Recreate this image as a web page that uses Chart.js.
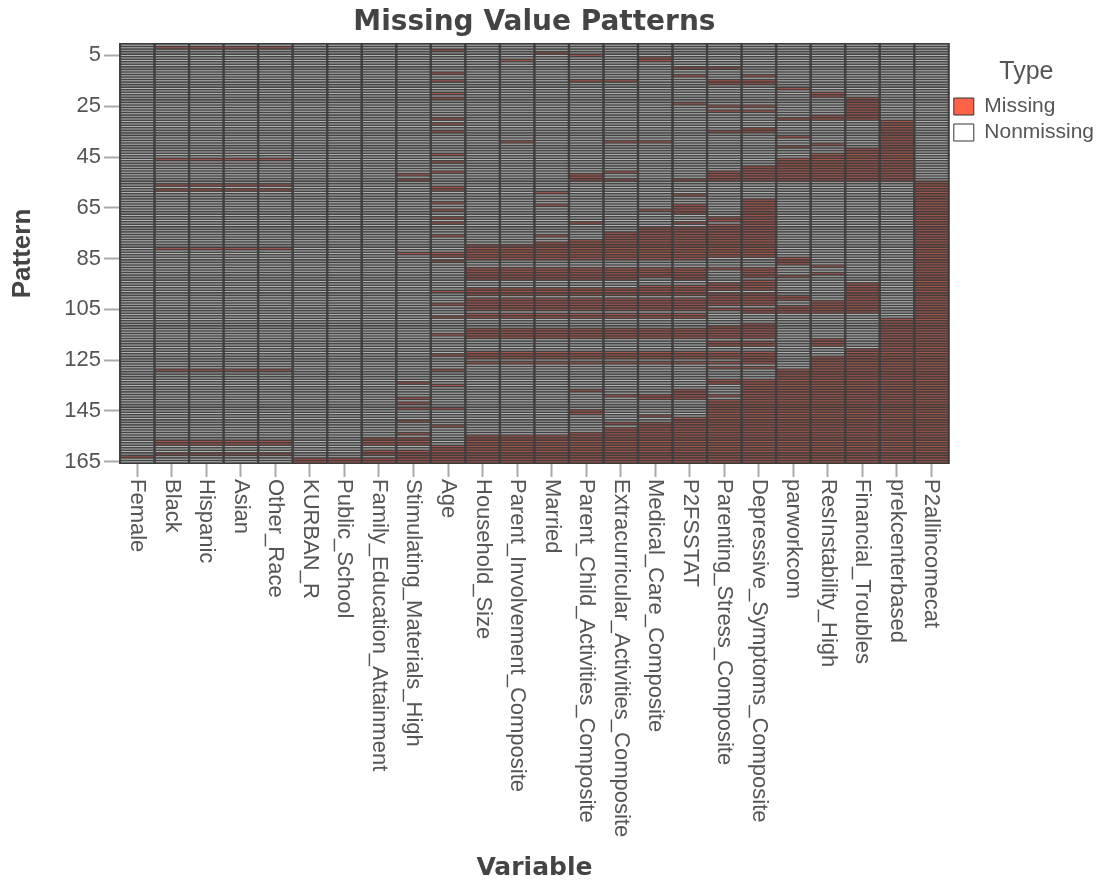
<!DOCTYPE html>
<html>
<head>
<meta charset="utf-8">
<title>Missing Value Patterns</title>
<script src="https://cdn.jsdelivr.net/npm/chart.js@4"></script>
<style>
    html, body { margin: 0; padding: 0; background: #fff; }
    /* the reference is a soft, resampled image */
    canvas { display: block; filter: blur(0.7px); }
</style>
</head>
<body>
<canvas id="patternChart" width="1099" height="884"></canvas>
<script>
// Data: missing pattern rows per variable, as [first, last] spans
const female = [[163, 163]];
const black = [[2, 2], [46, 46], [56, 56], [58, 58], [81, 81], [129, 129], [157, 158], [162, 162]];
const hispanic = [[2, 2], [46, 46], [56, 56], [58, 58], [81, 81], [129, 129], [157, 158], [162, 162]];
const asian = [[2, 2], [46, 46], [56, 56], [58, 58], [81, 81], [129, 129], [157, 158], [162, 162]];
const otherRace = [[2, 2], [46, 46], [56, 56], [58, 58], [81, 81], [129, 129], [157, 158], [162, 162]];
const kurbanR = [[164, 165]];
const publicSchool = [[164, 165]];
const familyEducation = [[156, 158], [161, 162], [164, 165]];
const stimulating = [[52, 52], [54, 54], [83, 83], [134, 134], [140, 140], [142, 142], [144, 144], [149, 149], [154, 154], [156, 158], [161, 165]];
const age = [[3, 3], [12, 12], [15, 15], [20, 20], [22, 22], [30, 30], [32, 32], [35, 35], [44, 44], [47, 47], [51, 51], [57, 58], [63, 63], [66, 66], [69, 69], [71, 71], [76, 76], [83, 84], [86, 86], [98, 98], [103, 103], [108, 108], [115, 115], [123, 123], [129, 129], [135, 135], [144, 144], [151, 151], [159, 165]];
const household = [[80, 85], [89, 93], [97, 99], [101, 105], [107, 108], [113, 116], [122, 124], [126, 126], [155, 165]];
const parentInvolvement = [[7, 7], [39, 39], [80, 85], [89, 93], [97, 99], [101, 105], [107, 108], [113, 116], [122, 124], [126, 126], [155, 165]];
const married = [[4, 4], [59, 59], [64, 64], [76, 76], [79, 85], [89, 93], [97, 99], [101, 105], [107, 108], [113, 116], [122, 124], [126, 126], [155, 165]];
const parentChild = [[5, 5], [15, 15], [52, 54], [71, 71], [78, 85], [89, 93], [97, 99], [101, 105], [107, 108], [113, 116], [122, 124], [126, 126], [137, 137], [145, 146], [154, 165]];
const extracurricular = [[15, 15], [39, 39], [51, 51], [54, 54], [75, 85], [89, 93], [97, 99], [101, 105], [107, 108], [113, 116], [122, 124], [126, 126], [139, 139], [150, 150], [152, 165]];
const medicalCare = [[6, 7], [39, 39], [66, 66], [73, 85], [89, 92], [96, 99], [101, 105], [107, 108], [113, 116], [122, 124], [126, 126], [139, 140], [147, 147], [150, 165]];
const p2fsstat = [[10, 10], [13, 13], [24, 24], [54, 54], [60, 60], [64, 67], [71, 71], [73, 85], [89, 93], [96, 99], [101, 105], [107, 108], [113, 116], [122, 124], [126, 126], [137, 140], [148, 165]];
const parentingStress = [[10, 10], [15, 16], [25, 25], [27, 27], [35, 35], [51, 54], [69, 70], [72, 84], [89, 89], [95, 97], [99, 103], [105, 105], [112, 116], [118, 119], [122, 124], [126, 126], [128, 128], [133, 134], [139, 139], [141, 165]];
const depressive = [[13, 13], [15, 16], [25, 25], [27, 27], [34, 35], [49, 54], [62, 84], [89, 92], [94, 97], [99, 103], [105, 106], [111, 116], [118, 119], [122, 126], [128, 128], [133, 165]];
const parwork = [[18, 18], [30, 30], [37, 37], [41, 41], [46, 54], [85, 87], [92, 92], [100, 101], [104, 106], [129, 165]];
const resInstability = [[20, 21], [29, 30], [40, 40], [44, 54], [88, 88], [91, 91], [102, 106], [117, 119], [124, 165]];
const financialTroubles = [[22, 30], [42, 54], [95, 106], [121, 165]];
const prekCenter = [[31, 54], [109, 165]];
const p2allIncome = [[55, 165]];

const variables = ['Female', 'Black', 'Hispanic', 'Asian', 'Other_Race', 'KURBAN_R', 'Public_School',
    'Family_Education_Attainment', 'Stimulating_Materials_High', 'Age', 'Household_Size',
    'Parent_Involvement_Composite', 'Married', 'Parent_Child_Activities_Composite',
    'Extracurricular_Activities_Composite', 'Medical_Care_Composite', 'P2FSSTAT',
    'Parenting_Stress_Composite', 'Depressive_Symptoms_Composite', 'parworkcom',
    'ResInstability_High', 'Financial_Troubles', 'prekcenterbased', 'P2allincomecat'];
const missingSpans = [female, black, hispanic, asian, otherRace, kurbanR, publicSchool, familyEducation,
    stimulating, age, household, parentInvolvement, married, parentChild, extracurricular, medicalCare,
    p2fsstat, parentingStress, depressive, parwork, resInstability, financialTroubles, prekCenter, p2allIncome];
const patternTicks = [5, 25, 45, 65, 85, 105, 125, 145, 165];
const patternCount = 165;
const typeLabels = ['Missing', 'Nonmissing'];

// Colours: legend keys keep the pure colours, cells are toned down so the thin rows
// blend the way they do in the resampled reference
const missingColor = '#ff6347';
const nonmissingColor = '#ffffff';
const keyBorder = '#333333';
const missingCell = '#a0564c';
const missingCellBorder = '#523f3c';
const nonmissingCell = '#b0b0b0';
const nonmissingCellBorder = '#505050';
const textColor = '#555555';
const tickColor = '#aaaaaa';

function isMissing(spans, row) {
    return spans.some(span => row >= span[0] && row <= span[1]);
}

// One dataset per pattern row, one floating bar per variable
const datasets = [];
for (let row = 1; row <= patternCount; row++) {
    datasets.push({
        data: variables.map(() => [row - 0.5, row + 0.5]),
        backgroundColor: missingSpans.map(spans => isMissing(spans, row) ? missingCell : nonmissingCell),
        borderColor: missingSpans.map(spans => isMissing(spans, row) ? missingCellBorder : nonmissingCellBorder),
        borderWidth: { top: 0.8, bottom: 0.8, left: 1.2, right: 1.2 },
        borderSkipped: false,
        inflateAmount: 0,
        grouped: false,
        barPercentage: 1,
        categoryPercentage: 1
    });
}

// Dark panel behind the cells, variable names running downwards under the ticks
const panelAndLabels = {
    id: 'panelAndLabels',
    beforeDatasetsDraw(chart) {
        const { ctx, chartArea } = chart;
        ctx.save();
        ctx.fillStyle = '#3c3c3c';
        ctx.fillRect(chartArea.left - 1, chartArea.top - 1, chartArea.width + 2, chartArea.height + 2);
        ctx.restore();
    },
    afterDatasetsDraw(chart) {
        // dark column separators over the cell edges
        const { ctx, chartArea } = chart;
        const xScale = chart.scales.x;
        ctx.save();
        ctx.strokeStyle = '#404040';
        ctx.lineWidth = 2;
        variables.forEach((name, i) => {
            const x = (xScale.getPixelForTick(i) + (i === 0 ? chartArea.left * 2 - xScale.getPixelForTick(i) : xScale.getPixelForTick(i - 1))) / 2;
            ctx.beginPath();
            ctx.moveTo(x, chartArea.top);
            ctx.lineTo(x, chartArea.bottom);
            ctx.stroke();
        });
        ctx.restore();
    },
    afterDraw(chart) {
        const { ctx, chartArea } = chart;
        const xScale = chart.scales.x;
        ctx.save();
        ctx.fillStyle = textColor;
        ctx.font = '22px "Liberation Sans"';
        ctx.textAlign = 'left';
        ctx.textBaseline = 'middle';
        variables.forEach((name, i) => {
            ctx.save();
            ctx.translate(xScale.getPixelForTick(i), chartArea.bottom + 16);
            ctx.rotate(Math.PI / 2);
            ctx.fillText(name, 0, 0);
            ctx.restore();
        });
        ctx.restore();
    }
};

new Chart(document.getElementById('patternChart'), {
    type: 'bar',
    data: { labels: variables, datasets: datasets },
    plugins: [panelAndLabels],
    options: {
        responsive: false,
        animation: false,
        layout: { padding: { top: 0, left: 0, right: -5, bottom: 0 } },
        plugins: {
            tooltip: { enabled: false },
            title: {
                display: true,
                text: 'Missing Value Patterns',
                fullSize: false,
                color: '#444444',
                font: { family: '"DejaVu Sans"', size: 28, weight: 'bold', lineHeight: 1.2 },
                padding: { top: 6, bottom: 4.4 }
            },
            legend: {
                position: 'right',
                align: 'start',
                title: {
                    display: true,
                    text: 'Type',
                    color: textColor,
                    font: { family: '"Liberation Sans"', size: 25 },
                    padding: { top: 60, bottom: 1 }
                },
                labels: {
                    color: textColor,
                    font: { family: '"Liberation Sans"', size: 21 },
                    boxWidth: 20,
                    boxHeight: 17,
                    padding: 5,
                    generateLabels: () => typeLabels.map((text, i) => ({
                        text: text,
                        fillStyle: i === 0 ? missingColor : nonmissingColor,
                        strokeStyle: keyBorder,
                        lineWidth: 1,
                        fontColor: textColor,
                        datasetIndex: 0
                    }))
                }
            }
        },
        scales: {
            x: {
                type: 'category',
                afterFit: axis => { axis.height = 421; },
                grid: { display: true, drawOnChartArea: false, offset: false, tickColor: tickColor, tickLength: 14, tickWidth: 2 },
                border: { display: false },
                ticks: { display: false },
                title: {
                    display: true,
                    text: 'Variable',
                    color: '#444444',
                    font: { family: '"DejaVu Sans"', size: 25, weight: 'bold', lineHeight: 1.2 },
                    padding: { top: 0, bottom: 1 }
                }
            },
            y: {
                type: 'linear',
                reverse: true,
                min: 0.5,
                max: patternCount + 0.5,
                afterBuildTicks: axis => { axis.ticks = patternTicks.map(v => ({ value: v })); },
                afterFit: axis => { axis.width = 120; },
                grid: { display: true, drawOnChartArea: false, tickColor: tickColor, tickLength: 16, tickWidth: 2 },
                border: { display: false },
                ticks: {
                    color: textColor,
                    padding: 3,
                    autoSkip: false,
                    font: { family: '"Liberation Sans"', size: 22 }
                },
                title: {
                    display: true,
                    text: 'Pattern',
                    color: '#444444',
                    font: { family: '"Liberation Sans"', size: 26, weight: 'bold', lineHeight: 1.2 },
                    padding: { top: 7, bottom: 0 }
                }
            }
        }
    }
});
</script>
</body>
</html>
